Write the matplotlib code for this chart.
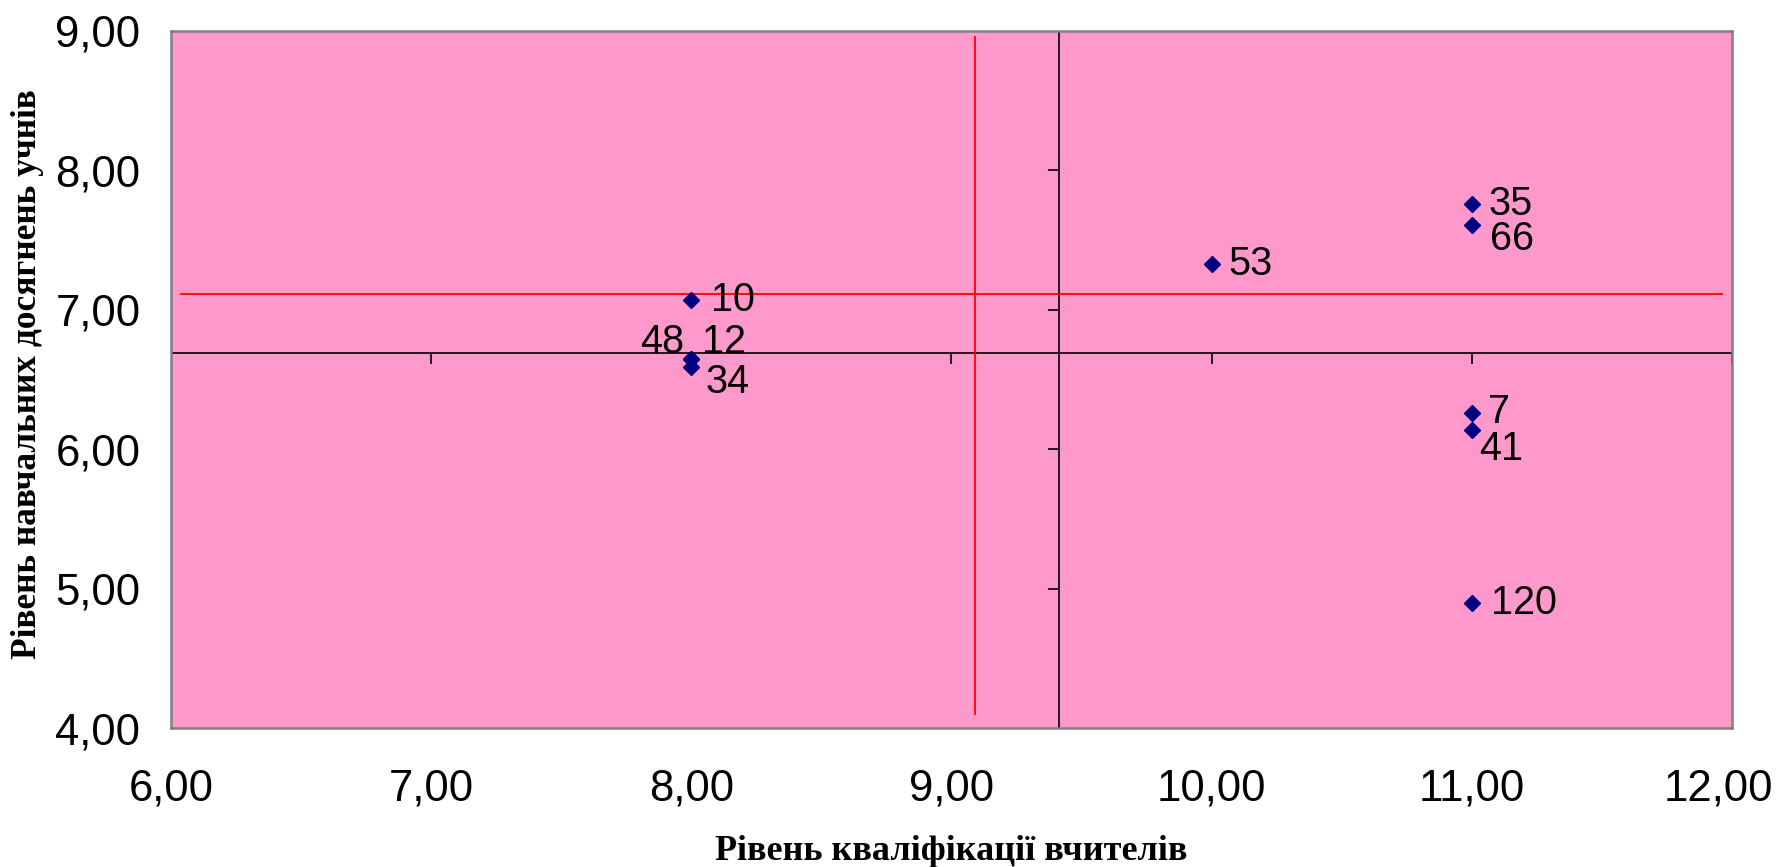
import matplotlib
matplotlib.use("Agg")
import matplotlib.pyplot as plt
import matplotlib.transforms as mtransforms
from matplotlib.markers import TICKDOWN, TICKLEFT

# ---- data ----
labels = ["10", "48", "12", "34", "53", "35", "66", "7", "41", "120"]
x_vals = [8.0, 8.0, 8.0, 8.0, 10.0, 11.0, 11.0, 11.0, 11.0, 11.0]
y_vals = [7.07, 6.65, 6.65, 6.59, 7.33, 7.76, 7.61, 6.26, 6.14, 4.90]

x_ticks = [6, 7, 8, 9, 10, 11, 12]
y_ticks = [4, 5, 6, 7, 8, 9]
x_tick_labels = ["6,00", "7,00", "8,00", "9,00", "10,00", "11,00", "12,00"]
y_tick_labels = ["4,00", "5,00", "6,00", "7,00", "8,00", "9,00"]

cross_x = 9.415   # where value axis crosses
cross_y = 6.69    # where category axis crosses
red_v_x = 9.09
red_v_span = [4.10, 8.96]
red_h_y = 7.115
red_h_span = [6.04, 11.96]

x_title = "Рівень кваліфікації вчителів"
y_title = "Рівень навчальних досягнень учнів"

# label offsets (points) and alignment
offsets = {
    "10": (14.5, 0, "left", "center"),
    "48": (-5.0, 12.0, "right", "center"),
    "12": (8.0, 12.0, "left", "center"),
    "34": (10.5, -10.6, "left", "center"),
    "53": (12.0, 0, "left", "center"),
    "35": (12.0, 0, "left", "center"),
    "66": (13.0, -10.6, "left", "center"),
    "7": (12.0, 0.5, "left", "center"),
    "41": (5.0, -14.0, "left", "center"),
    "120": (14.0, 0, "left", "center"),
}

W, H = 1784, 867
fig = plt.figure(figsize=(W / 100, H / 100), dpi=100)
fig.patch.set_facecolor("white")
left, right, top, bottom = 171, 1732, 31, 728
ax = fig.add_axes([left / W, 1 - bottom / H, (right - left) / W, (bottom - top) / H])
ax.set_facecolor("#FF99CC")
ax.set_xlim(6, 12)
ax.set_ylim(4, 9)

for s in ax.spines.values():
    s.set_color("#808080")
    s.set_linewidth(1.8)

ax.set_xticks(x_ticks)
ax.set_xticklabels(x_tick_labels, fontsize=31.5, family="Liberation Sans")
ax.set_yticks(y_ticks)
ax.set_yticklabels(y_tick_labels, fontsize=31.5, family="Liberation Sans")
ax.tick_params(axis="x", length=0, pad=29)
ax.tick_params(axis="y", length=0, pad=22)

# last x label nudged left so it fits within the figure
last = ax.get_xticklabels()[-1]
last.set_transform(last.get_transform() +
                   mtransforms.ScaledTranslation(-14 / 100, 0, fig.dpi_scale_trans))

# crossing axes
ax.axhline(cross_y, color="black", lw=1.2, zorder=2)
ax.axvline(cross_x, color="black", lw=1.2, zorder=2)
ax.plot(x_ticks, [cross_y] * len(x_ticks), linestyle="none", marker=TICKDOWN,
        markersize=8, color="black", markeredgewidth=1.2, zorder=2)
ax.plot([cross_x] * len(y_ticks[1:-1]), y_ticks[1:-1], linestyle="none", marker=TICKLEFT,
        markersize=8, color="black", markeredgewidth=1.2, zorder=2)

# red reference lines
ax.plot([red_v_x, red_v_x], red_v_span, color="red", lw=1.3, zorder=3)
ax.plot(red_h_span, [red_h_y, red_h_y], color="red", lw=1.3, zorder=3)

# points
ax.plot(x_vals, y_vals, linestyle="none", marker="D", markersize=8.5,
        color="#000080", zorder=4)

for lab, xv, yv in zip(labels, x_vals, y_vals):
    dx, dy, ha, va = offsets[lab]
    ax.annotate(lab, (xv, yv), xytext=(dx, dy), textcoords="offset points",
                ha=ha, va=va, fontsize=28.5, family="Liberation Sans", zorder=5)

fig.text(0.5 * (left + right) / W, 1 - 851 / H, x_title, ha="center", va="center",
         fontsize=26, fontweight="bold", family="Liberation Serif")
fig.text(28 / W, 1 - ((31 + 728) / 2 - 5) / H, y_title, ha="center", va="center",
         rotation=90, fontsize=25.5, fontweight="bold", family="Liberation Serif")

fig.savefig("out.png", dpi=100)
